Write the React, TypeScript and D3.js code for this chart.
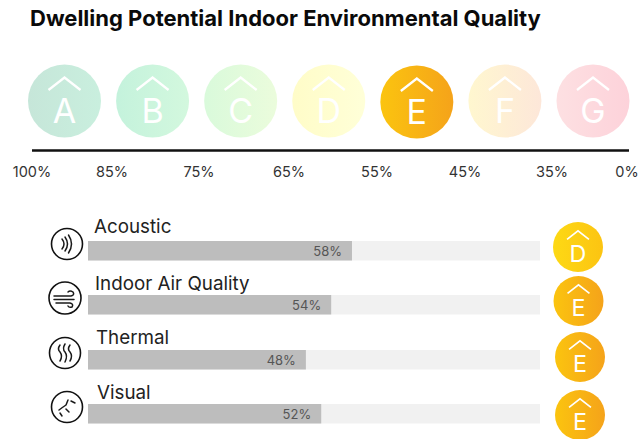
import React from "react";
import * as d3 from "d3";

const TITLE = "Dwelling Potential Indoor Environmental Quality";
const grades = ["A", "B", "C", "D", "E", "F", "G"];
const gradeStops = [
  ["#c6e6d9", "#c9efde"],
  ["#c4f2dc", "#d3f8de"],
  ["#d9fadb", "#ebfcdc"],
  ["#fffcc8", "#ffffd8"],
  ["#fbc40f", "#f5a31a"],
  ["#fff7cf", "#fde7d9"],
  ["#fde0e2", "#fdd2da"],
];
const tickLabels = ["100%", "85%", "75%", "65%", "55%", "45%", "35%", "0%"];
const tickX = [32, 112, 199, 289, 377, 465, 552, 627];

const categories = ["Acoustic", "Indoor Air Quality", "Thermal", "Visual"];
const values = [58.4, 53.8, 48.2, 51.6];
const rowGrades = ["D", "E", "E", "E"];
const barTop = [241, 295, 350, 404];
const labelPos = [[94, 233], [95, 290], [96, 344], [97, 399]];
const iconPos = [[67, 244, 15.5], [65, 298, 16], [65, 353, 15.5], [67, 407, 15.5]];
const badgePos = [[578, 247], [578.5, 301], [580, 357], [580, 415]];

const FONT = "Inter, 'Noto Sans', sans-serif";

const x = d3.scaleLinear().domain([0, 100]).range([88, 540]);
const gradeX = d3.scalePoint<string>().domain(grades).range([64.5, 593]);
const tickScale = d3.scaleOrdinal<string, number>().domain(tickLabels).range(tickX);

function Badge({ cx, cy, r, letter, fill, op = 1 }: any) {
  const k = r / 36.5;
  const chevron = d3.line()([[-16, -11], [0, -23.5], [16, -11]].map(([a, b]) => [a * k, b * k]) as any) as string;
  return (
    <g transform={`translate(${cx},${cy})`}>
      <circle r={r} fill={fill} opacity={op} />
      <path d={chevron} fill="none" stroke="#fff" strokeWidth={2 * k + 0.3} />
      <text y={21.5 * k} textAnchor="middle" fontFamily={FONT} fontWeight={400} fontSize={34 * k} fill="#fff">
        {letter}
      </text>
    </g>
  );
}

function Icon({ kind }: { kind: number }) {
  const s = { fill: "none", stroke: "#1a1a1a", strokeWidth: 1.5, strokeLinecap: "round" as const };
  if (kind === 0)
    return (
      <g {...s}>
        <path d="M-5,-5 Q-1,0 -5,5" />
        <path d="M-2,-7 Q3,0 -2,7" />
        <path d="M1.5,-9 Q7.5,0 1.5,9" />
      </g>
    );
  if (kind === 1)
    return (
      <g {...s}>
        <path d="M-11,-2 H6 Q10,-3 8,-6 Q5,-8 3,-6" />
        <path d="M-11,1.5 H9" />
        <path d="M-9,5 H5 Q9,6 7,9 Q4,10 3,8" />
      </g>
    );
  if (kind === 2)
    return (
      <g {...s}>
        <path d="M-5,-8 Q-8,-4 -5,-1 Q-2,3 -5,8" />
        <path d="M0,-9 Q-3,-4 0,-1 Q3,3 0,9" />
        <path d="M5,-8 Q2,-4 5,-1 Q8,3 5,8" />
      </g>
    );
  return (
    <g {...s}>
      <path d="M-8,3 Q-4,0 -1,-2 L1,-7" />
      <path d="M4,-6 L8,-4" />
      <path d="M-1,2 L2,5" />
      <path d="M-7,6 L-5,9" />
    </g>
  );
}

export default function App() {
  return (
    <svg width={640} height={439} style={{ position: "absolute", left: 0, top: 0, background: "#fff" }}>
      <defs>
        {grades.map((g, i) => (
          <linearGradient key={g} id={`grad-${g}`}>
            <stop offset="0" stopColor={gradeStops[i][0]} />
            <stop offset="1" stopColor={gradeStops[i][1]} />
          </linearGradient>
        ))}
        <linearGradient id="grad-badge-D">
          <stop offset="0" stopColor="#fdd914" />
          <stop offset="1" stopColor="#fcc412" />
        </linearGradient>
      </defs>

      <text x={30} y={25.5} fontFamily={FONT} fontWeight={700} fontSize={22} fill="#0a0a0a">
        {TITLE}
      </text>

      {grades.map((g) => (
        <Badge key={g} cx={gradeX(g)} cy={g === "E" ? 102 : 101} r={36.5} letter={g} fill={`url(#grad-${g})`} />
      ))}

      <line x1={32} x2={629} y1={150.5} y2={150.5} stroke="#111" strokeWidth={2.4} />

      {tickLabels.map((t) => (
        <text key={t} x={tickScale(t)} y={177} textAnchor="middle" fontFamily={FONT} fontWeight={400} fontSize={14.5} fill="#333">
          {t}
        </text>
      ))}

      {categories.map((c, i) => (
        <g key={c}>
          <rect x={x(0)} y={barTop[i]} width={x(100) - x(0)} height={19.5} fill="#f1f1f1" />
          <rect x={x(0)} y={barTop[i]} width={x(values[i]) - x(0)} height={19.5} fill="#bdbdbd" />
          <text x={x(values[i]) - 10} y={barTop[i] + 15} textAnchor="end" fontFamily={FONT} fontSize={13} fill="#555">
            {Math.round(values[i])}%
          </text>
          <text x={labelPos[i][0]} y={labelPos[i][1]} fontFamily={FONT} fontSize={18.8} fill="#222">
            {c}
          </text>
          <g transform={`translate(${iconPos[i][0]},${iconPos[i][1]})`}>
            <circle r={iconPos[i][2]} fill="#fff" stroke="#111" strokeWidth={1.6} />
            <Icon kind={i} />
          </g>
          <Badge
            cx={badgePos[i][0]}
            cy={badgePos[i][1]}
            r={25}
            letter={rowGrades[i]}
            fill={rowGrades[i] === "D" ? "url(#grad-badge-D)" : "url(#grad-E)"}
          />
        </g>
      ))}
    </svg>
  );
}
